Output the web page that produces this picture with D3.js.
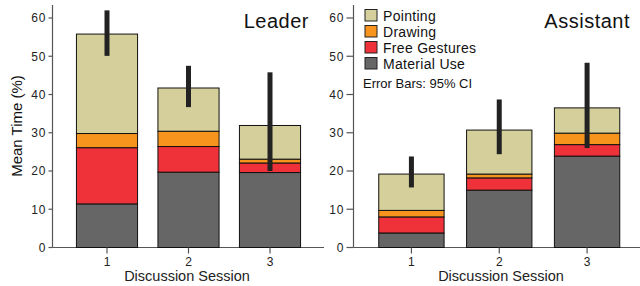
<!DOCTYPE html>
<html>
<head>
<meta charset="utf-8">
<script src="https://cdn.jsdelivr.net/npm/d3@7"></script>
<style>
  body { margin: 0; background: #fff; }
  svg { display: block; font-family: "Liberation Sans", Arial, sans-serif; }
</style>
</head>
<body>
<div id="chart"></div>
<script>
var sessions = ["1", "2", "3"];
var seriesNames = ["Material Use", "Free Gestures", "Drawing", "Pointing"];
var seriesColors = ["#666666", "#ef3139", "#f7941d", "#d4cf9b"];
var yTicks = [0, 10, 20, 30, 40, 50, 60];

// Leader
var leaderMaterial = [11.4, 19.7, 19.6];
var leaderFree = [14.7, 6.7, 2.5];
var leaderDrawing = [3.7, 4.0, 1.0];
var leaderPointing = [26.0, 11.3, 8.8];
var leaderCiLow = [50.1, 36.7, 20.0];
var leaderCiHigh = [62.0, 47.5, 45.8];

// Assistant
var assistantMaterial = [3.8, 15.0, 23.9];
var assistantFree = [4.2, 3.2, 3.0];
var assistantDrawing = [1.7, 1.0, 3.0];
var assistantPointing = [9.5, 11.5, 6.6];
var assistantCiLow = [15.7, 24.4, 26.0];
var assistantCiHigh = [23.8, 38.7, 48.3];

var W = 640, H = 286;
var svg = d3.select("#chart").append("svg").attr("width", W).attr("height", H);

var y = d3.scaleLinear().domain([0, 63.4]).range([247.5, 5]);

function rows(material, free, drawing, pointing) {
    return sessions.map(function (s, i) {
        return { session: s, "Material Use": material[i], "Free Gestures": free[i], "Drawing": drawing[i], "Pointing": pointing[i] };
    });
}

function panel(opt) {
    var g = svg.append("g");
    var x = d3.scaleBand().domain(sessions).range(opt.bandRange)
        .paddingInner(opt.pad).paddingOuter(opt.pad / 2);
    var stack = d3.stack().keys(seriesNames)(opt.data);

    // axes lines
    g.append("line").attr("x1", opt.axisX).attr("x2", opt.axisX).attr("y1", 5).attr("y2", y(0))
        .attr("stroke", "#555").attr("stroke-width", 1.2);
    g.append("line").attr("x1", opt.axisX).attr("x2", opt.axisEnd).attr("y1", y(0)).attr("y2", y(0))
        .attr("stroke", "#555").attr("stroke-width", 1.2);

    // y ticks
    var yt = g.selectAll(".yt").data(yTicks).enter().append("g")
        .attr("transform", function (d) { return "translate(" + opt.axisX + "," + y(d) + ")"; });
    yt.append("line").attr("x1", -opt.tickLen).attr("x2", 0).attr("stroke", "#555").attr("stroke-width", 1.2);
    yt.append("text").attr("x", -opt.tickLen - 2).attr("dy", "0.36em").attr("text-anchor", "end")
        .attr("font-size", 12).attr("letter-spacing", 1).attr("fill", "#222").text(function (d) { return d; });

    // stacked bars
    g.selectAll(".layer").data(stack).enter().append("g")
        .attr("fill", function (d, i) { return seriesColors[i]; })
        .selectAll("rect").data(function (d) { return d; }).enter().append("rect")
        .attr("x", function (d) { return x(d.data.session); })
        .attr("width", x.bandwidth())
        .attr("y", function (d) { return y(d[1]); })
        .attr("height", function (d) { return y(d[0]) - y(d[1]); })
        .attr("stroke", "#111").attr("stroke-width", 1);

    // error bars
    g.selectAll(".err").data(sessions).enter().append("rect")
        .attr("x", function (d) { return x(d) + x.bandwidth() / 2 - 2.5; })
        .attr("width", 5)
        .attr("y", function (d, i) { return y(opt.ciHigh[i]); })
        .attr("height", function (d, i) { return y(opt.ciLow[i]) - y(opt.ciHigh[i]); })
        .attr("fill", "#222");

    // x ticks
    var xt = g.selectAll(".xt").data(sessions).enter().append("g")
        .attr("transform", function (d) { return "translate(" + (x(d) + x.bandwidth() / 2) + "," + y(0) + ")"; });
    xt.append("line").attr("y1", 0).attr("y2", 6).attr("stroke", "#555").attr("stroke-width", 1.2);
    xt.append("text").attr("y", 18.5).attr("text-anchor", "middle").attr("font-size", 12)
        .attr("fill", "#222").text(function (d) { return d; });

    g.append("text").attr("x", opt.labelX).attr("y", 281).attr("text-anchor", "middle")
        .attr("font-size", 14.5).attr("fill", "#222").text("Discussion Session");

    g.append("text").attr("x", opt.titleX).attr("y", 27.5).attr("text-anchor", "end")
        .attr("font-size", 20).attr("letter-spacing", 0.5).attr("fill", "#111").text(opt.title);
    return g;
}

panel({
    data: rows(leaderMaterial, leaderFree, leaderDrawing, leaderPointing),
    ciLow: leaderCiLow, ciHigh: leaderCiHigh,
    bandRange: [66.25, 310.75], pad: 0.25,
    axisX: 52.5, axisEnd: 324, tickLen: 4,
    labelX: 187, title: "Leader", titleX: 309
});

panel({
    data: rows(assistantMaterial, assistantFree, assistantDrawing, assistantPointing),
    ciLow: assistantCiLow, ciHigh: assistantCiHigh,
    bandRange: [367.5, 631], pad: 0.256,
    axisX: 353.5, axisEnd: 640, tickLen: 7,
    labelX: 501, title: "Assistant", titleX: 630
});

// y label
svg.append("text").attr("transform", "translate(22,126) rotate(-90)").attr("text-anchor", "middle")
    .attr("font-size", 15).attr("fill", "#111").text("Mean Time (%)");

// legend
var legendOrder = ["Pointing", "Drawing", "Free Gestures", "Material Use"];
var leg = svg.append("g").attr("transform", "translate(365,9.5)");
var li = leg.selectAll("g").data(legendOrder).enter().append("g")
    .attr("transform", function (d, i) { return "translate(0," + i * 16 + ")"; });
li.append("rect").attr("width", 12).attr("height", 11.5)
    .attr("fill", function (d) { return seriesColors[seriesNames.indexOf(d)]; })
    .attr("stroke", "#222").attr("stroke-width", 1);
li.append("text").attr("x", 18).attr("y", 11).attr("font-size", 14).attr("letter-spacing", 0.3)
    .attr("fill", "#111").text(function (d) { return d; });
leg.append("text").attr("x", -2).attr("y", 78).attr("font-size", 13).attr("fill", "#111")
    .text("Error Bars: 95% CI");
</script>
</body>
</html>
